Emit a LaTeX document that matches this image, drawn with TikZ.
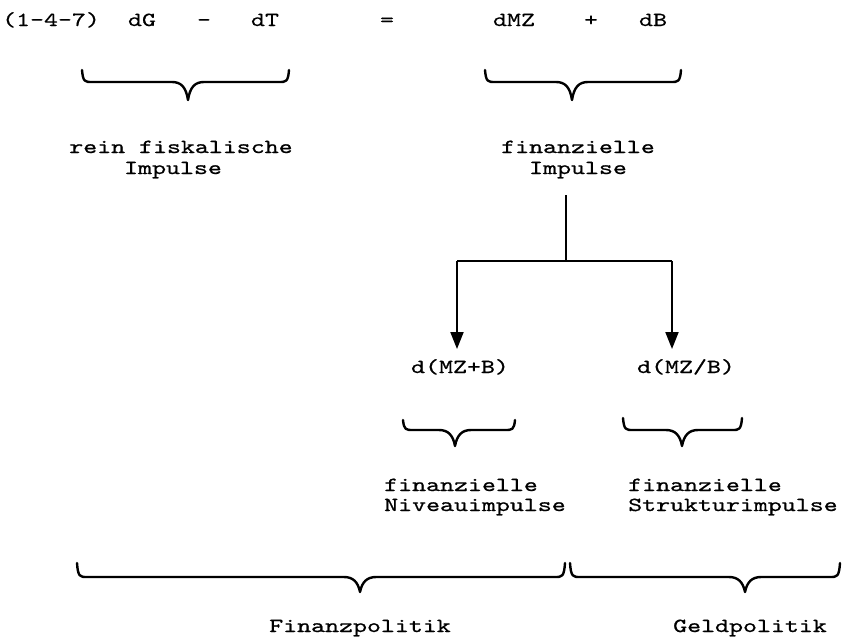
\documentclass[tikz,border=0pt]{standalone}
\usepackage{fontspec}
\usetikzlibrary{arrows.meta}
\newfontfamily\twfont{lmmono10-regular.otf}[FakeStretch=1.33,FakeBold=0.8]
\newfontfamily\twlight{lmmono10-regular.otf}[FakeStretch=1.33,FakeBold=0.4]
\newcommand{\tw}{\twfont\fontsize{20}{22}\selectfont}
\newcommand{\twl}{\twlight\fontsize{20}{22}\selectfont}
\newcommand{\hbrace}[6]{%
  \draw[bracestyle] (#1,#4) .. controls (#1+1,#5) and (#1+3,#5) .. (#1+10,#5)
    -- (#3-16,#5) .. controls (#3-7,#5) and (#3-2,#5+5) .. (#3,#6)
    .. controls (#3+2,#5+5) and (#3+7,#5) .. (#3+16,#5)
    -- (#2-10,#5) .. controls (#2-3,#5) and (#2-1,#5) .. (#2,#4);}
\tikzset{
  txt/.style={inner sep=0pt, font=\tw, text=black},
  toptxt/.style={inner sep=0pt, font=\twl, text=black},
  bracestyle/.style={line width=2.4pt, line cap=round, line join=round},
  conn/.style={line width=2pt},
  arr/.style={line width=2pt, -{Triangle[length=17pt,width=13pt]}},
}
\begin{document}
\begin{tikzpicture}[x=1pt,y=-1pt]
\useasboundingbox[fill=white] (0,0) rectangle (842,638);
% top row
\node[toptxt, anchor=base] (eq)  at (51,26)  {(1-4-7)};
\node[toptxt, anchor=base] (dG)  at (142,26) {dG};
\node[toptxt, anchor=base] (mi)  at (204,26) {-};
\node[toptxt, anchor=base] (dT)  at (265,26) {dT};
\node[toptxt, anchor=base] (eqs) at (387,26) {=};
\node[toptxt, anchor=base] (dMZ) at (514,26) {dMZ};
\node[toptxt, anchor=base] (pl)  at (591,26) {+};
\node[toptxt, anchor=base] (dB)  at (653,26) {dB};
% top braces
\hbrace{82}{289}{188}{70}{82}{100}
\hbrace{485}{681}{572}{70}{82}{100}
% labels
\node[txt, anchor=base] (rf1) at (181,153) {rein fiskalische};
\node[txt, anchor=base] (rf2) at (173,174) {Impulse};
\node[txt, anchor=base] (fi1) at (578,153) {finanzielle};
\node[txt, anchor=base] (fi2) at (578,174) {Impulse};
% tree
\coordinate (vtop) at (566,195);
\coordinate (hub) at (566,261);
\coordinate (lc) at (457,261);
\coordinate (rc) at (672,261);
\coordinate (la) at (457,349);
\coordinate (ra) at (672,349);
\draw[conn] (vtop) -- (hub);
\draw[conn] (lc) -- (rc);
\draw[arr] (lc) -- (la);
\draw[arr] (rc) -- (ra);
\node[txt, anchor=base] (d1) at (460,373) {d(MZ+B)};
\node[txt, anchor=base] (d2) at (686,373) {d(MZ/B)};
% small braces
\hbrace{403}{515}{455}{420}{430}{446}
\hbrace{623}{742}{682}{418}{430}{446}
\node[txt, anchor=base west] (n1) at (384,491) {finanzielle};
\node[txt, anchor=base west] (n2) at (384,511) {Niveauimpulse};
\node[txt, anchor=base west] (s1) at (628,491) {finanzielle};
\node[txt, anchor=base west] (s2) at (628,511) {Strukturimpulse};
% bottom braces
\hbrace{77}{565}{360}{563}{577}{592}
\hbrace{570}{840}{745}{563}{577}{592}
\node[txt, anchor=base] (fp) at (360,632) {Finanzpolitik};
\node[txt, anchor=base] (gp) at (750,632) {Geldpolitik};
\end{tikzpicture}
\end{document}
